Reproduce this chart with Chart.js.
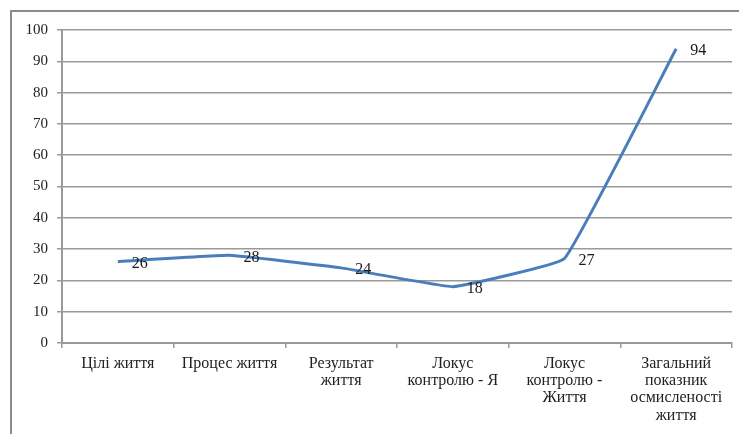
<!DOCTYPE html>
<html>
<head>
<meta charset="utf-8">
<script src="https://cdn.jsdelivr.net/npm/chart.js@4/dist/chart.umd.min.js"></script>
<style>
  html, body { margin: 0; padding: 0; background: #fff; }
  #wrap { width: 739px; height: 434px; position: relative; }
</style>
</head>
<body>
<div id="wrap"><canvas id="c" width="739" height="434"></canvas></div>
<script>
// Life-meaningfulness scale scores
const categories = [
  ["Цілі життя"],
  ["Процес життя"],
  ["Результат", "життя"],
  ["Локус", "контролю - Я"],
  ["Локус", "контролю -", "Життя"],
  ["Загальний", "показник", "осмисленості", "життя"]
];
const scores = [26, 28, 24, 18, 27, 94];
const yTicks = [0, 10, 20, 30, 40, 50, 60, 70, 80, 90, 100];

const serif = "'Liberation Serif', 'Times New Roman', serif";
const gridGray = '#9a9a9a';

// Frame around the whole figure
const framePlugin = {
  id: 'frame',
  beforeDraw(chart) {
    const ctx = chart.ctx;
    ctx.save();
    ctx.strokeStyle = '#8c8c8c';
    ctx.lineWidth = 2;
    ctx.strokeRect(11, 11, 760, 460);
    ctx.restore();
  }
};

// Value labels placed to the right of each point
const valueLabels = {
  id: 'valueLabels',
  afterDatasetsDraw(chart) {
    const ctx = chart.ctx;
    const meta = chart.getDatasetMeta(0);
    const data = chart.data.datasets[0].data;
    ctx.save();
    ctx.font = '16px ' + serif;
    ctx.fillStyle = '#1a1a1a';
    ctx.textAlign = 'left';
    ctx.textBaseline = 'middle';
    meta.data.forEach((pt, i) => {
      ctx.fillText(String(data[i]), pt.x + 14, pt.y + 2);
    });
    ctx.restore();
  }
};

new Chart(document.getElementById('c'), {
  type: 'line',
  data: {
    labels: categories,
    datasets: [{
      data: scores,
      borderColor: '#4a7ebb',
      borderWidth: 3,
      pointRadius: 0,
      tension: 0.08,
      fill: false
    }]
  },
  options: {
    responsive: false,
    animation: false,
    layout: { padding: { left: 0, top: 30, right: 7, bottom: 0 } },
    plugins: { legend: { display: false }, tooltip: { enabled: false } },
    scales: {
      x: {
        offset: true,
        grid: {
          offset: true,
          drawOnChartArea: false,
          drawTicks: true,
          tickLength: 5,
          color: gridGray,
          lineWidth: 1.5
        },
        border: { color: gridGray, width: 2 },
        ticks: {
          font: { family: serif, size: 16, lineHeight: 1.08 },
          color: '#222',
          padding: 7,
          maxRotation: 0,
          autoSkip: false
        },
        afterFit(scale) { scale.height = 91; }
      },
      y: {
        min: 0,
        max: 100,
        afterBuildTicks(scale) { scale.ticks = yTicks.map(v => ({ value: v })); },
        grid: {
          color: gridGray,
          lineWidth: 1.5,
          drawTicks: true,
          tickLength: 5
        },
        border: { color: gridGray, width: 2 },
        ticks: {
          font: { family: serif, size: 15 },
          color: '#222',
          padding: 9
        },
        afterFit(scale) { scale.width = 62; }
      }
    }
  },
  plugins: [framePlugin, valueLabels]
});
</script>
</body>
</html>
